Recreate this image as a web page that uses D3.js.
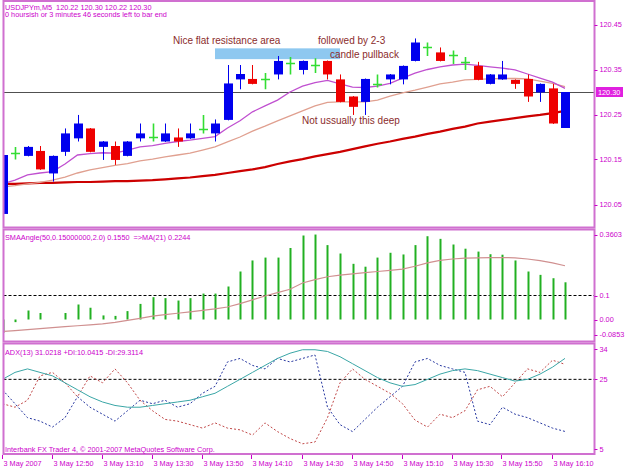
<!DOCTYPE html>
<html><head><meta charset="utf-8">
<script src="https://cdn.jsdelivr.net/npm/d3@7"></script>
<style>body{margin:0;background:#fff;} svg{display:block;} text{font-family:"Liberation Sans",Arial,sans-serif;}</style>
</head><body><svg id="c" width="625" height="469"></svg>
<script>
// ---------- DATA ----------
const tickLabels = ["3 May 2007","3 May 12:50","3 May 13:10","3 May 13:30","3 May 13:50","3 May 14:10","3 May 14:30","3 May 14:50","3 May 15:10","3 May 15:30","3 May 15:50","3 May 16:10"];
const tickBars = [0,4,8,12,16,20,24,28,32,36,40,44];
const open  = [120.029,120.165,120.158,120.169,120.119,120.167,120.197,120.219,120.178,120.180,120.158,120.197,120.199,120.190,120.199,120.197,120.218,120.208,120.238,120.328,120.329,120.328,120.339,120.364,120.349,120.360,120.369,120.328,120.290,120.278,120.317,120.328,120.328,120.369,120.401,120.388,120.382,120.367,120.358,120.318,120.328,120.327,120.329,120.299,120.308,120.220];
const high  = [120.178,120.178,120.180,120.180,120.159,120.219,120.249,120.220,120.191,120.190,120.191,120.230,120.230,120.230,120.219,120.230,120.249,120.239,120.360,120.360,120.360,120.342,120.380,120.378,120.370,120.375,120.370,120.339,120.291,120.330,120.339,120.340,120.359,120.419,120.410,120.399,120.392,120.378,120.367,120.340,120.369,120.328,120.339,120.319,120.318,120.300];
const low   = [120.019,120.150,120.157,120.127,120.101,120.158,120.190,120.166,120.149,120.138,120.157,120.190,120.190,120.189,120.178,120.196,120.208,120.190,120.237,120.306,120.317,120.306,120.328,120.339,120.339,120.342,120.328,120.277,120.249,120.249,120.310,120.317,120.317,120.368,120.380,120.368,120.362,120.349,120.326,120.317,120.327,120.307,120.278,120.278,120.229,120.220];
const close = [120.160,120.165,120.178,120.128,120.158,120.208,120.230,120.167,120.190,120.149,120.190,120.208,120.199,120.208,120.190,120.208,120.218,120.230,120.319,120.340,120.318,120.328,120.369,120.364,120.369,120.360,120.339,120.278,120.267,120.329,120.317,120.339,120.358,120.410,120.401,120.369,120.382,120.367,120.327,120.339,120.339,120.318,120.290,120.318,120.230,120.300];
const maFast = [120.096,120.104,120.116,120.120,120.123,120.140,120.160,120.163,120.165,120.164,120.171,120.178,120.181,120.186,120.190,120.193,120.197,120.201,120.220,120.236,120.256,120.269,120.282,120.300,120.313,120.321,120.326,120.318,120.311,120.310,120.313,120.319,120.331,120.342,120.350,120.356,120.360,120.362,120.359,120.356,120.353,120.349,120.340,120.331,120.322,120.308];
const maMid = [120.089,120.092,120.096,120.099,120.104,120.111,120.120,120.127,120.132,120.137,120.141,120.147,120.151,120.156,120.160,120.164,120.171,120.178,120.189,120.200,120.213,120.224,120.236,120.247,120.258,120.269,120.277,120.278,120.278,120.278,120.282,120.291,120.298,120.304,120.311,120.318,120.322,120.327,120.328,120.329,120.330,120.330,120.329,120.324,120.319,120.312];
const maSlow = [120.096,120.096,120.097,120.098,120.098,120.099,120.100,120.100,120.101,120.102,120.102,120.103,120.104,120.106,120.108,120.110,120.113,120.116,120.120,120.124,120.128,120.133,120.140,120.146,120.151,120.157,120.162,120.167,120.173,120.179,120.185,120.190,120.196,120.201,120.207,120.212,120.218,120.223,120.230,120.234,120.238,120.242,120.246,120.249,120.253,120.258];
const currentPrice = 120.30;
const priceTicks = [120.45,120.35,120.25,120.15,120.05];
const smaAngle = [-0.055,-0.011,0.0375,0.027,0,0.027,0.0625,0.049,0.017,0.015,0.035,0.065,0.093,0.089,0.079,0.089,0.108,0.108,0.1375,0.2,0.246,0.258,0.258,0.298,0.35,0.354,0.31,0.275,0.232,0.22,0.258,0.278,0.271,0.31,0.347,0.336,0.3125,0.295,0.283,0.272,0.27,0.246,0.2,0.186,0.172,0.155];
const smaAngleMA = [-0.050,-0.046,-0.042,-0.038,-0.034,-0.030,-0.026,-0.022,-0.018,-0.012,-0.004,0.005,0.014,0.020,0.026,0.032,0.038,0.044,0.052,0.066,0.082,0.098,0.112,0.126,0.152,0.166,0.178,0.185,0.190,0.195,0.200,0.205,0.210,0.222,0.236,0.246,0.252,0.256,0.257,0.258,0.258,0.257,0.252,0.245,0.236,0.224];
const angleTicks = ["0.3603","0.1","0.00","-0.0853"];
const angleTickVals = [0.3603,0.1,0.0,-0.0853];
const angleLevel = 0.1;
const adx = [25,27,28,27,26,24,22,20,18.5,17.5,17,17,17.5,18,18.5,19,20,21,23,25,27,29,31,32.5,33.5,33.5,33,31.5,29.5,27.5,25.5,24,23,23.5,25,26.5,27.5,28,27.5,26.5,25.5,24.5,25,26.5,28.5,31.02];
const plusDI = [22,18,14,13,11.3,14,20,17,15,13,16,19,18,19,17,18,21,23,30,31,29,28,31,30,31,32,17,12,10,13.5,17,20,23,30,31,29,28,27,13,12,17,15,14,12.5,11,10.04];
const minusDI = [18,17,19,26,27,24,20,26,24,28,24,19,16,13.5,13,12,11,12.5,11,10.5,9,12.5,10,8,6.5,7,14,24,28,25,23,21,18,13.3,11.3,15,14,16,22,23,20,24,28,27,30.5,29.31];
const adxTicks = [34,25,5];
const adxLevel = 25;
const annotations = [
  {text:"Nice flat resistance area", bar:13.64, price:120.4067},
  {text:"followed by 2-3", bar:25.24, price:120.4067},
  {text:"candle pullback", bar:26.2, price:120.3756},
  {text:"Not ussually this deep", bar:23.96, price:120.2289}
];
const zone = {bar0:17, bar1:27, p0:120.373, p1:120.397};

// ---------- DRAW ----------
const svg = d3.select("#c");
const TXT = "#cc00cc", BORDER = "#d070d0";
const L = 3.5, R = 594.5;
const P1 = {top:1, bot:227.5}, P2 = {top:229.5, bot:341.5}, P3 = {top:343.5, bot:454};

const x = d3.scaleLinear().domain([0,45]).range([2.5,565]);
const y1 = d3.scaleLinear().domain([120.05,120.45]).range([204.5,24.5]);
const y2 = d3.scaleLinear().domain([0,0.1]).range([319.5,295.5]);
const y3 = d3.scaleLinear().domain([5,34]).range([449,348]);

const defs = svg.append("defs");
[P1,P2,P3].forEach((p,i)=>{
  defs.append("clipPath").attr("id","cp"+i).append("rect")
    .attr("x",L+0.5).attr("y",p.top+0.5).attr("width",R-L-1).attr("height",p.bot-p.top-1);
});

const g1 = svg.append("g").attr("clip-path","url(#cp0)");
const g2 = svg.append("g").attr("clip-path","url(#cp1)");
const g3 = svg.append("g").attr("clip-path","url(#cp2)");

// main panel
g1.append("rect").attr("x",x(zone.bar0)).attr("y",y1(zone.p1))
  .attr("width",x(zone.bar1)-x(zone.bar0)).attr("height",y1(zone.p0)-y1(zone.p1)).attr("fill","#8ec8f0");
g1.append("line").attr("x1",L).attr("x2",R).attr("y1",Math.round(y1(currentPrice))+0.5).attr("y2",Math.round(y1(currentPrice))+0.5)
  .attr("stroke","#505050").attr("stroke-width",1);

const idx = d3.range(open.length);
const lineGen = (arr, ys) => d3.line().x(i=>x(i)).y(i=>ys(arr[i]))(idx);
g1.append("path").attr("d",lineGen(maSlow,y1)).attr("fill","none").attr("stroke","#cc0000").attr("stroke-width",2.2);
g1.append("path").attr("d",lineGen(maMid,y1)).attr("fill","none").attr("stroke","#e0a090").attr("stroke-width",1.3);
g1.append("path").attr("d",lineGen(maFast,y1)).attr("fill","none").attr("stroke","#c050d0").attr("stroke-width",1.3);

const bw = 9;
const cg = g1.append("g");
idx.forEach(i=>{
  const cx = Math.round(x(i)) + 0.5;
  const o=open[i], c=close[i];
  const doji = c===o;
  const col = c>o ? "#0000ee" : (c<o ? "#ee0000" : "#33dd33");
  cg.append("line").attr("x1",cx).attr("x2",cx).attr("y1",y1(high[i])).attr("y2",y1(low[i])).attr("stroke",col).attr("stroke-width",doji?1.6:1);
  if (doji) {
    cg.append("line").attr("x1",cx-bw/2).attr("x2",cx+bw/2).attr("y1",Math.round(y1(o))+0.5).attr("y2",Math.round(y1(o))+0.5).attr("stroke",col).attr("stroke-width",1.6);
  } else {
    const t=y1(Math.max(o,c)), b=y1(Math.min(o,c));
    cg.append("rect").attr("x",cx-bw/2).attr("y",t).attr("width",bw).attr("height",Math.max(1,b-t)).attr("fill",col);
  }
});

annotations.forEach(a=>{
  g1.append("text").attr("x",x(a.bar)).attr("y",y1(a.price)).text(a.text)
    .attr("font-size","10px").attr("fill","#8b2c2c");
});

// panel 2
g2.append("line").attr("x1",L).attr("x2",R).attr("y1",y2(angleLevel)).attr("y2",y2(angleLevel))
  .attr("stroke","#000").attr("stroke-width",1).attr("stroke-dasharray","3,2");
idx.forEach(i=>{
  const cx = Math.round(x(i))+0.5;
  g2.append("line").attr("x1",cx).attr("x2",cx).attr("y1",y2(0)).attr("y2",y2(smaAngle[i]))
    .attr("stroke","#22b022").attr("stroke-width",2);
});
g2.append("path").attr("d",lineGen(smaAngleMA,y2)).attr("fill","none").attr("stroke","#d09090").attr("stroke-width",1.2);

// panel 3
g3.append("line").attr("x1",L).attr("x2",R).attr("y1",y3(adxLevel)).attr("y2",y3(adxLevel))
  .attr("stroke","#000").attr("stroke-width",1).attr("stroke-dasharray","3,2");
g3.append("path").attr("d",lineGen(plusDI,y3)).attr("fill","none").attr("stroke","#2838a0").attr("stroke-width",1).attr("stroke-dasharray","2,2");
g3.append("path").attr("d",lineGen(minusDI,y3)).attr("fill","none").attr("stroke","#c04848").attr("stroke-width",1).attr("stroke-dasharray","2,2");
g3.append("path").attr("d",lineGen(adx,y3)).attr("fill","none").attr("stroke","#3aa6a6").attr("stroke-width",1);

// borders
[P1,P2,P3].forEach(p=>{
  svg.append("rect").attr("x",L).attr("y",p.top).attr("width",R-L).attr("height",p.bot-p.top)
    .attr("fill","none").attr("stroke",BORDER).attr("stroke-width",2);
});

// right axes
const fs = "7.3px";
function rightLabel(yv, txt){
  svg.append("line").attr("x1",R).attr("x2",R+3).attr("y1",Math.round(yv)+0.5).attr("y2",Math.round(yv)+0.5).attr("stroke",TXT);
  svg.append("text").attr("x",R+5).attr("y",yv+2.6).text(txt).attr("font-size",fs).attr("fill",TXT);
}
priceTicks.forEach(p=>rightLabel(y1(p), p.toFixed(2)));
const cpY = y1(currentPrice);
svg.append("rect").attr("x",R+1.5).attr("y",cpY-5).attr("width",27).attr("height",10).attr("fill","#e020e0");
svg.append("text").attr("x",R+3.5).attr("y",cpY+2.6).text(currentPrice.toFixed(2)).attr("font-size",fs).attr("fill","#fff");
angleTickVals.forEach((v,i)=>{
  let yy = y2(v);
  if (i===0) yy = Math.max(yy, P2.top+5);
  if (i===3) yy = Math.min(yy, P2.bot-7);
  rightLabel(yy, angleTicks[i]);
});
adxTicks.forEach(v=>{
  let yy = y3(v);
  if (v===34) yy = Math.max(yy, P3.top+5.5);
  rightLabel(yy, String(v));
});

// time axis
tickBars.forEach((b,i)=>{
  const tx = Math.round(x(b))-0.5;
  svg.append("line").attr("x1",tx).attr("x2",tx).attr("y1",P3.bot+1).attr("y2",P3.bot+5).attr("stroke",TXT);
  svg.append("text").attr("x",tx+1).attr("y",465.5).text(tickLabels[i]).attr("font-size",fs).attr("fill",TXT);
});

// texts
const T = (tx,ty,s)=>svg.append("text").attr("x",tx).attr("y",ty).text(s).attr("font-size",fs).attr("fill",TXT);
T(5,9.5,"USDJPYm,M5  120.22 120.30 120.22 120.30").style("white-space","pre");
T(5,17.2,"0 hoursish or 3 minutes 46 seconds left to bar end");
T(5,240,"SMAAngle(50,0.15000000,2.0) 0.1550  =>MA(21) 0.2244").style("white-space","pre");
T(5,355,"ADX(13) 31.0218 +DI:10.0415 -DI:29.3114");
T(5,451.5,"Interbank FX Trader 4, © 2001-2007 MetaQuotes Software Corp.");
</script></body></html>
